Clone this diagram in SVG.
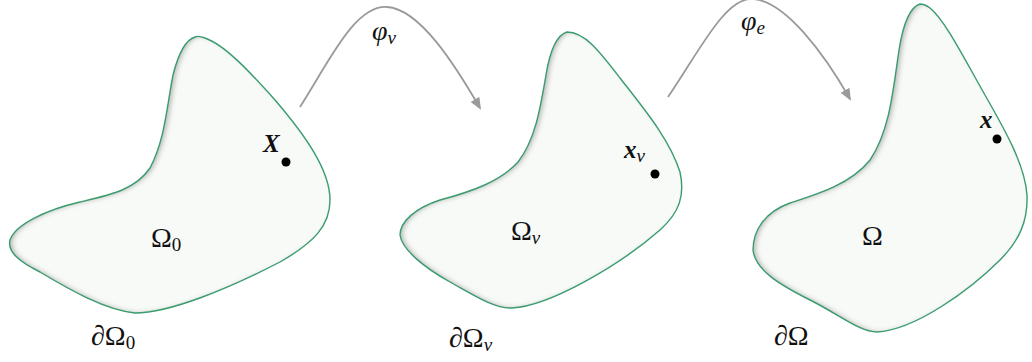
<svg xmlns="http://www.w3.org/2000/svg" width="1032" height="362" viewBox="0 0 1032 362">
<defs>
<style>
.blob{fill:#f8faf7;filter:url(#inner)}
.edge{fill:none;stroke:#3a9c6e;stroke-width:1.4}
.arr{fill:none;stroke:#9a9a9a;stroke-width:1.8;marker-end:url(#ah)}
.t{font-family:"Liberation Serif","DejaVu Serif",serif;font-size:28px;fill:#111}
.s{font-size:19px}
.i{font-style:italic}
.b{font-weight:bold;font-style:italic;font-size:25px}
.dot{fill:#000}
</style>
<marker id="ah" viewBox="0 0 12 10" refX="10" refY="5" markerWidth="12" markerHeight="10" markerUnits="userSpaceOnUse" orient="auto">
<path d="M0,0 L12,5 L0,10 Z" fill="#9a9a9a"/>
</marker>
<filter id="inner" x="-10%" y="-10%" width="120%" height="120%">
<feComponentTransfer in="SourceAlpha" result="inv"><feFuncA type="table" tableValues="1 0"/></feComponentTransfer>
<feGaussianBlur in="inv" stdDeviation="2.5" result="blur"/>
<feOffset in="blur" dx="2.5" dy="0" result="off"/>
<feFlood flood-color="#000" flood-opacity="0.5"/>
<feComposite in2="off" operator="in" result="sh"/>
<feComposite in="sh" in2="SourceAlpha" operator="in" result="ish"/>
<feMerge><feMergeNode in="SourceGraphic"/><feMergeNode in="ish"/></feMerge>
</filter>
</defs>
<rect width="1032" height="362" fill="#fff"/>
<g id="connectors">
<path class="arr" d="M300,107 C330,60 355,5 387,7 C420,9 455,65 480,108"/>
<path class="arr" d="M668,97 C700,50 725,-2 752,-1 C785,0 825,55 850,99"/>
<text class="t i" x="372" y="40">φ<tspan class="s" dy="4">v</tspan></text>
<text class="t i" x="741" y="30">φ<tspan class="s" dy="4">e</tspan></text>
</g>
<g id="omega0">
<path class="blob" d="M195,37 C185,40 178,55 173,75 C167,105 165,140 150,168 C135,190 110,195 80,202 C45,210 15,225 10,240 C7,252 20,262 40,272 C70,290 105,310 135,313 C170,313 230,288 280,262 C315,242 330,225 330,200 C330,170 305,135 275,100 C250,72 225,45 205,38 C200,36 197,36 195,37 Z"/>
<path class="edge" d="M195,37 C185,40 178,55 173,75 C167,105 165,140 150,168 C135,190 110,195 80,202 C45,210 15,225 10,240 C7,252 20,262 40,272 C70,290 105,310 135,313 C170,313 230,288 280,262 C315,242 330,225 330,200 C330,170 305,135 275,100 C250,72 225,45 205,38 C200,36 197,36 195,37 Z"/>
<circle class="dot" cx="286" cy="162" r="4.5"/>
<text class="t b" x="263" y="152">X</text>
<text class="t" x="151" y="247">Ω<tspan class="s" dy="4">0</tspan></text>
<text class="t i" x="91" y="345">∂<tspan font-style="normal">Ω</tspan><tspan class="s" font-style="normal" dy="4">0</tspan></text>
</g>
<g id="omegav">
<path class="blob" d="M567,32 C557,35 550,50 546,75 C540,110 535,140 518,162 C500,182 470,192 440,200 C415,208 400,222 400,235 C402,250 425,268 450,282 C475,296 495,309 512,308 C550,306 620,265 660,230 C680,212 685,195 680,172 C670,140 645,110 620,78 C600,52 585,32 567,32 Z"/>
<path class="edge" d="M567,32 C557,35 550,50 546,75 C540,110 535,140 518,162 C500,182 470,192 440,200 C415,208 400,222 400,235 C402,250 425,268 450,282 C475,296 495,309 512,308 C550,306 620,265 660,230 C680,212 685,195 680,172 C670,140 645,110 620,78 C600,52 585,32 567,32 Z"/>
<circle class="dot" cx="655" cy="174" r="4.5"/>
<text class="t b" x="624" y="158">x<tspan class="s" dy="4" font-weight="normal">v</tspan></text>
<text class="t" x="511" y="240">Ω<tspan class="s i" dy="4">v</tspan></text>
<text class="t i" x="449" y="347">∂<tspan font-style="normal">Ω</tspan><tspan class="s" dy="4">v</tspan></text>
</g>
<g id="omega">
<path class="blob" d="M920,4 C910,7 903,25 899,50 C893,90 890,130 870,160 C850,185 815,195 790,203 C765,212 753,230 753,250 C755,270 780,285 810,300 C840,315 860,332 877,332 C915,330 970,290 1000,260 C1020,240 1028,220 1027,195 C1025,165 1005,130 985,95 C965,60 945,20 930,8 C926,5 923,4 920,4 Z"/>
<path class="edge" d="M920,4 C910,7 903,25 899,50 C893,90 890,130 870,160 C850,185 815,195 790,203 C765,212 753,230 753,250 C755,270 780,285 810,300 C840,315 860,332 877,332 C915,330 970,290 1000,260 C1020,240 1028,220 1027,195 C1025,165 1005,130 985,95 C965,60 945,20 930,8 C926,5 923,4 920,4 Z"/>
<circle class="dot" cx="997" cy="139" r="4.5"/>
<text class="t b" x="980" y="128">x</text>
<text class="t" x="862" y="245">Ω</text>
<text class="t i" x="774" y="345">∂<tspan font-style="normal">Ω</tspan></text>
</g>
</svg>
